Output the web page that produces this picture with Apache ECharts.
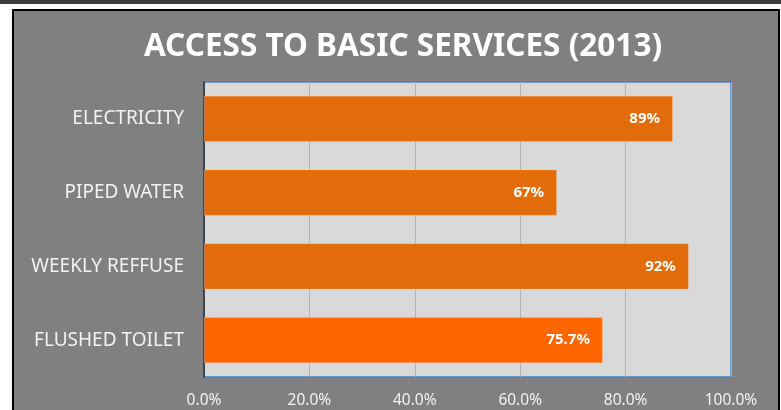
<!DOCTYPE html>
<html>
<head>
<meta charset="utf-8">
<title>Access to Basic Services (2013)</title>
<script src="https://cdn.jsdelivr.net/npm/echarts@6/dist/echarts.min.js"></script>
<style>
  html, body { margin: 0; padding: 0; background: #ffffff; }
  #frame { position: relative; width: 781px; height: 410px; overflow: hidden; background: #ffffff; }
  #band { position: absolute; left: 0; top: 0; width: 781px; height: 4px; background: #3c3c3c; }
  #panel { position: absolute; left: 12px; top: 9px; width: 764px; height: 420px;
           background: #808080; border: 2px solid #000000; }
  #chart { position: absolute; left: 0; top: 0; width: 781px; height: 410px; }
</style>
</head>
<body>
<div id="frame">
  <div id="band"></div>
  <div id="panel"></div>
  <div id="chart"></div>
</div>
<script>
// Service categories, top to bottom
const categories = ['ELECTRICITY', 'PIPED WATER', 'WEEKLY REFFUSE', 'FLUSHED TOILET'];
// Share of households with access, in percent
const accessValues = [89, 67, 92, 75.7];
// Text printed inside each bar
const valueLabels = ['89%', '67%', '92%', '75.7%'];
// Axis ticks
const axisTicks = [0, 20, 40, 60, 80, 100];

const barColors = ['#E36C0A', '#E36C0A', '#E36C0A', '#FF6600'];

const chart = echarts.init(document.getElementById('chart'), null, { renderer: 'canvas' });

// y category axis runs bottom-up, so reverse to keep ELECTRICITY on top
const catOrder = categories.slice().reverse();
const seriesData = accessValues.map((v, i) => ({
  value: v,
  label: { formatter: valueLabels[i] },
  itemStyle: { color: barColors[i] }
})).reverse();

chart.setOption({
  backgroundColor: 'transparent',
  animation: false,
  title: {
    text: 'ACCESS TO BASIC SERVICES (2013)',
    left: 398,
    textAlign: 'center',
    top: 26,
    textStyle: {
      color: '#ffffff',
      fontFamily: '"Noto Sans", sans-serif',
      fontWeight: 'bold',
      fontSize: 31.5
    }
  },
  grid: {
    left: 204,
    right: 50,
    top: 82,
    bottom: 33,
    show: true,
    backgroundColor: '#D9D9D9',
    borderColor: '#4A7EC0',
    borderWidth: 1.5
  },
  xAxis: {
    type: 'value',
    min: 0,
    max: axisTicks[axisTicks.length - 1],
    interval: axisTicks[1] - axisTicks[0],
    axisLine: { show: false },
    axisTick: { show: false },
    splitLine: { show: true, lineStyle: { color: '#B4B4B4', width: 1 } },
    axisLabel: {
      color: '#F2F2F2',
      fontFamily: '"Noto Sans", sans-serif',
      fontSize: 15.5,
      margin: 16,
      formatter: v => v.toFixed(1) + '%'
    }
  },
  yAxis: {
    type: 'category',
    data: catOrder,
    axisLine: { show: true, lineStyle: { color: '#3F4550', width: 2 } },
    axisTick: { show: false },
    axisLabel: {
      color: '#F2F2F2',
      fontFamily: '"Noto Sans", sans-serif',
      fontSize: 19,
      margin: 20
    }
  },
  series: [{
    type: 'bar',
    data: seriesData,
    barCategoryGap: '37%',
    itemStyle: { borderColor: 'rgba(255,200,150,0.35)', borderWidth: 1 },
    label: {
      show: true,
      position: 'insideRight',
      distance: 13,
      color: '#ffffff',
      fontFamily: '"Noto Sans", sans-serif',
      fontWeight: 'bold',
      fontSize: 15
    }
  }]
});
</script>
</body>
</html>
